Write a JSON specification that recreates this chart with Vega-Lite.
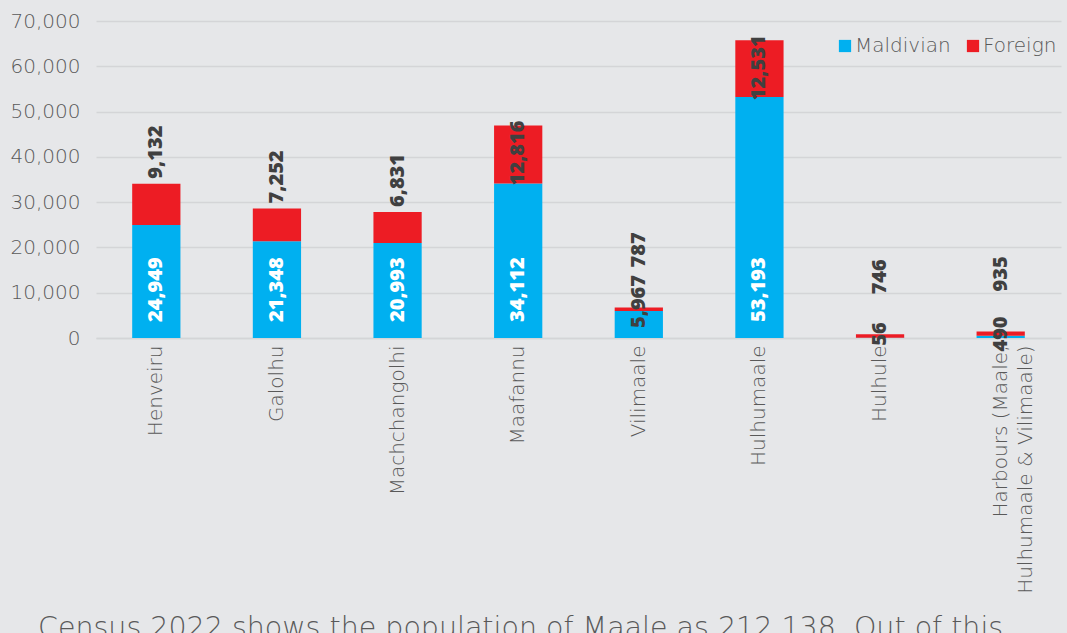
{
  "$schema": "https://vega.github.io/schema/vega-lite/v6.json",
  "width": 965,
  "height": 317,
  "autosize": {"type": "none"},
  "padding": {"left": 96, "top": 21, "right": 6, "bottom": 295},
  "background": "#e6e7e9",
  "title": {
    "text": "Census 2022 shows the population of Maale as 212,138. Out of this",
    "orient": "bottom",
    "anchor": "start",
    "frame": "group",
    "dx": -58,
    "offset": 21,
    "font": "DejaVu Sans",
    "fontSize": 28.5,
    "fontWeight": 200,
    "color": "#595959"
  },
  "data": {
    "values": [
      {"area": "Henveiru", "Maldivian": 24949, "Foreign": 9132},
      {"area": "Galolhu", "Maldivian": 21348, "Foreign": 7252},
      {"area": "Machchangolhi", "Maldivian": 20993, "Foreign": 6831},
      {"area": "Maafannu", "Maldivian": 34112, "Foreign": 12816},
      {"area": "Vilimaale", "Maldivian": 5967, "Foreign": 787},
      {"area": "Hulhumaale", "Maldivian": 53193, "Foreign": 12531},
      {"area": "Hulhule", "Maldivian": 56, "Foreign": 746},
      {"area": "Harbours (Maale, Hulhumaale & Vilimaale)", "Maldivian": 490, "Foreign": 935}
    ]
  },
  "transform": [
    {"fold": ["Maldivian", "Foreign"], "as": ["series", "value"]},
    {"joinaggregate": [{"op": "sum", "field": "value", "as": "total"}], "groupby": ["area"]}
  ],
  "encoding": {
    "x": {
      "field": "area",
      "type": "nominal",
      "sort": null,
      "title": null,
      "scale": {"paddingInner": 0.6, "paddingOuter": 0.3},
      "axis": {
        "labelAngle": -90,
        "labelPadding": 7,
        "labelLimit": 0,
        "labelFont": "DejaVu Sans",
        "labelFontSize": 20,
        "labelFontWeight": 200,
        "labelColor": "#595959",
        "labelLineHeight": 25,
        "labelExpr": "datum.label == 'Harbours (Maale, Hulhumaale & Vilimaale)' ? ['Harbours (Maale,', 'Hulhumaale & Vilimaale)'] : datum.label",
        "ticks": false,
        "domain": true,
        "domainColor": "#d4d5d7",
        "domainWidth": 1.5
      }
    }
  },
  "layer": [
    {
      "mark": {"type": "bar"},
      "encoding": {
        "y": {
          "field": "value",
          "type": "quantitative",
          "stack": "zero",
          "title": null,
          "scale": {"domain": [0, 70000], "nice": false},
          "axis": {
            "values": [0, 10000, 20000, 30000, 40000, 50000, 60000, 70000],
            "format": ",d",
            "domain": false,
            "ticks": false,
            "grid": true,
            "gridColor": "#d4d5d7",
            "gridWidth": 1.5,
            "labelPadding": 16,
            "labelFont": "DejaVu Sans",
            "labelFontSize": 20,
            "labelFontWeight": 200,
            "labelColor": "#595959"
          }
        },
        "color": {
          "field": "series",
          "type": "nominal",
          "scale": {"domain": ["Maldivian", "Foreign"], "range": ["#00B0F0", "#ED1C24"]},
          "legend": {
            "title": null,
            "orient": "none",
            "legendX": 739,
            "legendY": 15,
            "direction": "horizontal",
            "symbolType": "square",
            "symbolSize": 150,
            "symbolStrokeWidth": 0,
            "labelFont": "DejaVu Sans",
            "labelFontSize": 20,
            "labelFontWeight": 200,
            "labelColor": "#595959",
            "labelOffset": 0,
            "columnPadding": 12
          }
        },
        "order": {"field": "series", "sort": "descending"}
      }
    },
    {
      "transform": [{"filter": "datum.series == 'Maldivian' && datum.value >= 10000"}],
      "mark": {"type": "text", "angle": 270, "align": "left", "baseline": "middle", "dx": 16, "font": "Open Sans", "fontSize": 20, "fontWeight": 800, "color": "#ffffff"},
      "encoding": {
        "y": {"datum": 0, "type": "quantitative", "title": null},
        "text": {"field": "value", "type": "quantitative", "format": ",d"}
      }
    },
    {
      "transform": [{"filter": "datum.series == 'Maldivian' && datum.value >= 1000 && datum.value < 10000"}],
      "mark": {"type": "text", "angle": 270, "align": "left", "baseline": "middle", "dx": 10, "font": "Open Sans", "fontSize": 20, "fontWeight": 800, "color": "#404040"},
      "encoding": {
        "y": {"datum": 0, "type": "quantitative", "title": null},
        "text": {"field": "value", "type": "quantitative", "format": ",d"}
      }
    },
    {
      "transform": [{"filter": "datum.series == 'Maldivian' && datum.value < 1000"}],
      "mark": {"type": "text", "angle": 270, "align": "center", "baseline": "middle", "dx": 4, "font": "Open Sans", "fontSize": 20, "fontWeight": 800, "color": "#404040"},
      "encoding": {
        "y": {"datum": 0, "type": "quantitative", "title": null},
        "text": {"field": "value", "type": "quantitative", "format": ",d"}
      }
    },
    {
      "transform": [{"filter": "datum.series == 'Foreign' && datum.value >= 10000"}],
      "mark": {"type": "text", "angle": 270, "align": "right", "baseline": "middle", "dx": 5, "font": "Open Sans", "fontSize": 20, "fontWeight": 800, "color": "#404040"},
      "encoding": {
        "y": {"field": "total", "type": "quantitative", "title": null},
        "text": {"field": "value", "type": "quantitative", "format": ",d"}
      }
    },
    {
      "transform": [{"filter": "datum.series == 'Foreign' && datum.value >= 1000 && datum.value < 10000"}],
      "mark": {"type": "text", "angle": 270, "align": "left", "baseline": "middle", "dx": 5, "font": "Open Sans", "fontSize": 20, "fontWeight": 800, "color": "#404040"},
      "encoding": {
        "y": {"field": "total", "type": "quantitative", "title": null},
        "text": {"field": "value", "type": "quantitative", "format": ",d"}
      }
    },
    {
      "transform": [{"filter": "datum.series == 'Foreign' && datum.value < 1000"}],
      "mark": {"type": "text", "angle": 270, "align": "left", "baseline": "middle", "dx": 40, "font": "Open Sans", "fontSize": 20, "fontWeight": 800, "color": "#404040"},
      "encoding": {
        "y": {"field": "total", "type": "quantitative", "title": null},
        "text": {"field": "value", "type": "quantitative", "format": ",d"}
      }
    }
  ],
  "config": {
    "view": {"stroke": null}
  }
}
